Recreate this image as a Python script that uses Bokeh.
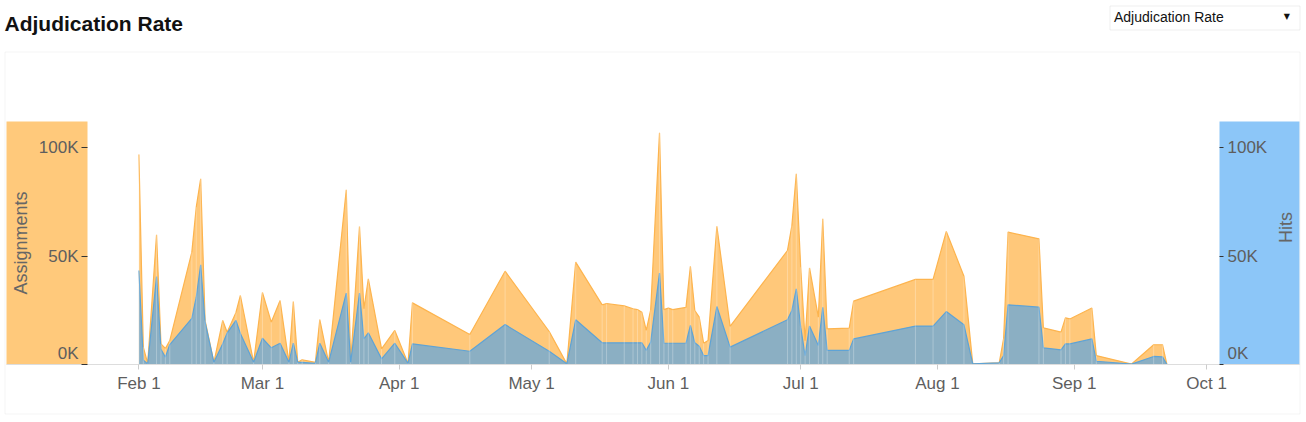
import math
import pandas as pd
from bokeh.plotting import figure
from bokeh.models import (Range1d, LinearAxis, DatetimeAxis, FixedTicker,
                          DatetimeTickFormatter, BoxAnnotation, Label, ColumnDataSource)
from bokeh.embed import file_html
from bokeh.resources import INLINE

# ---------------- data ----------------
dates = [
    "2015-02-01", "2015-02-02", "2015-02-03", "2015-02-05", "2015-02-06", "2015-02-07",
    "2015-02-08", "2015-02-13", "2015-02-14", "2015-02-15", "2015-02-16", "2015-02-18",
    "2015-02-20", "2015-02-21", "2015-02-23", "2015-02-24", "2015-02-27", "2015-03-01",
    "2015-03-03", "2015-03-05", "2015-03-07", "2015-03-08", "2015-03-09", "2015-03-10",
    "2015-03-13", "2015-03-14", "2015-03-16", "2015-03-20", "2015-03-21", "2015-03-23",
    "2015-03-24", "2015-03-25", "2015-03-28", "2015-03-31", "2015-04-03", "2015-04-04",
    "2015-04-17", "2015-04-25", "2015-05-05", "2015-05-09", "2015-05-11", "2015-05-17",
    "2015-05-18", "2015-05-22", "2015-05-24", "2015-05-25", "2015-05-26", "2015-05-27",
    "2015-05-28", "2015-05-30", "2015-05-31", "2015-06-01", "2015-06-02", "2015-06-05",
    "2015-06-06", "2015-06-07", "2015-06-08", "2015-06-09", "2015-06-10", "2015-06-12",
    "2015-06-15", "2015-06-28", "2015-06-29", "2015-06-30", "2015-07-01", "2015-07-02",
    "2015-07-03", "2015-07-05", "2015-07-06", "2015-07-07", "2015-07-12", "2015-07-13",
    "2015-07-27", "2015-07-31", "2015-08-03", "2015-08-07", "2015-08-09", "2015-08-15",
    "2015-08-16", "2015-08-17", "2015-08-24", "2015-08-25", "2015-08-29", "2015-08-30",
    "2015-08-31", "2015-09-05", "2015-09-06", "2015-09-14", "2015-09-19", "2015-09-21",
    "2015-09-22",
]
assignments = [
    96800, 8000, 500, 59800, 9500, 7400,
    11000, 51800, 72500, 85600, 20300, 1000,
    20300, 14900, 24000, 31800, 1000, 33200,
    19500, 29500, 1000, 29000, 1000, 2200,
    1000, 20700, 1000, 80500, 1000, 63600,
    25700, 39500, 7200, 15700, 500, 28400,
    13800, 43000, 15200, 300, 47200, 27500,
    28100, 27000, 25700, 25300, 24100, 15700,
    25200, 106800, 25300, 26000, 25300, 26300,
    45300, 24900, 21800, 9800, 11000, 63700,
    17600, 52500, 64000, 87900, 44800, 11000,
    44500, 21800, 67100, 16400, 16800, 29200,
    39200, 39200, 61300, 40700, 300, 800,
    12000, 61000, 57900, 16900, 14900, 21500,
    21000, 26000, 4100, 200, 9100, 9100,
    0,
]
hits = [
    43300, 2000, 300, 40500, 7000, 3400,
    9200, 21300, 31000, 45900, 19500, 1000,
    9600, 14500, 20300, 14300, 1000, 12100,
    7700, 9800, 1000, 9800, 1000, 1000,
    500, 9800, 1000, 32900, 1000, 32900,
    11800, 14600, 2600, 9800, 500, 9500,
    6100, 18400, 6100, 300, 20600, 10000,
    10000, 10000, 10000, 10000, 10000, 6500,
    10300, 42100, 9800, 9800, 9800, 9800,
    18000, 10000, 8400, 4100, 4100, 26700,
    8000, 20600, 24900, 34900, 17200, 4100,
    17700, 8800, 26400, 6500, 6500, 11800,
    17700, 17700, 24400, 18300, 300, 800,
    4100, 27500, 26400, 7700, 6700, 9500,
    9500, 11800, 1500, 200, 3700, 3500,
    0,
]
x_ticks = ["2015-02-01", "2015-03-01", "2015-04-01", "2015-05-01", "2015-06-01",
           "2015-07-01", "2015-08-01", "2015-09-01", "2015-10-01"]
y_ticks = [0, 50000, 100000]
y_tick_labels = ["0K", "50K", "100K"]
y_max = 112000
title_text = "Adjudication Rate"
dropdown_text = "Adjudication Rate"
left_label = "Assignments"
right_label = "Hits"

# ---------------- layout helpers (pixel -> data for page furniture) ----------------
W, H = 1306, 422
DAY_MS = 86400000.0
FEB1 = pd.Timestamp("2015-02-01").value / 1e6
PX_PER_DAY = 4.412
PX_PER_UNIT = 2.17 / 1000.0
X0_PX, Y0_PX = 138.4, 364.0


def px_x(px):
    return FEB1 + (px - X0_PX) / PX_PER_DAY * DAY_MS


def px_y(py):
    return (Y0_PX - py) / PX_PER_UNIT


x = pd.to_datetime(dates)
src = ColumnDataSource(dict(x=x, a=assignments, h=hits, z=[0] * len(dates)))
tick_ms = [pd.Timestamp(t).value / 1e6 for t in x_ticks]

FONT = "Liberation Sans"
TXT = "#5e5e5e"

p = figure(width=W, height=H, output_backend="svg", toolbar_location=None,
           x_range=Range1d(px_x(0), px_x(W)), y_range=Range1d(px_y(H), px_y(0)),
           x_axis_location=None, y_axis_location=None,
           min_border=0, min_border_left=0, min_border_right=0,
           min_border_top=0, min_border_bottom=0)
p.title.visible = False
# the "0K" labels sit a little above their tick, as in the original chart
zero_shift = 11 / PX_PER_UNIT
p.extra_y_ranges = {
    "hits": Range1d(px_y(H), px_y(0)),
    "zero_lab": Range1d(px_y(H) - zero_shift, px_y(0) - zero_shift),
}
p.xgrid.visible = False
p.ygrid.visible = False
p.outline_line_color = None
p.background_fill_color = "white"
p.border_fill_color = "white"

left_edge, right_edge = px_x(87), px_x(1219)

# coloured axis panels
p.add_layout(BoxAnnotation(left=px_x(6), right=left_edge, bottom=0, top=y_max,
                           fill_color="#FFC97B", fill_alpha=1, line_color=None,
                           level="underlay"))
p.add_layout(BoxAnnotation(left=right_edge, right=px_x(1299), bottom=0, top=y_max,
                           fill_color="#8CC6F8", fill_alpha=1, line_color=None,
                           level="underlay"))
# outer chart box
p.add_layout(BoxAnnotation(left=px_x(4.5), right=px_x(1299.5), top=px_y(51.5),
                           bottom=px_y(413.5), fill_color=None, line_color="#dedede",
                           line_width=1, level="underlay"))
# dropdown box
p.add_layout(BoxAnnotation(left=px_x(1109.5), right=px_x(1299.5), top=px_y(5.5),
                           bottom=px_y(29.5), fill_color=None, line_color="#c6c6c6",
                           line_width=1))

# areas
p.varea(x="x", y1="z", y2="a", source=src, fill_color="#FFC87A", fill_alpha=1)
p.line(x="x", y="a", source=src, line_color="#FDB44E", line_width=1.2)
p.varea(x="x", y1="z", y2="h", source=src, fill_color="#8BAFC3", fill_alpha=1,
        y_range_name="hits")
p.line(x="x", y="h", source=src, line_color="#5EA3D6", line_width=1.2,
       y_range_name="hits")
p.segment(x0="x", y0="z", x1="x", y1="a", source=src, line_color="white",
          line_alpha=0.28, line_width=1)

# x axis
xa = DatetimeAxis(fixed_location=0, bounds=(px_x(6), px_x(1299)))
xa.ticker = FixedTicker(ticks=tick_ms)
xa.formatter = DatetimeTickFormatter(months="%b %-d", days="%b %-d")
xa.major_label_text_font = FONT
xa.major_label_text_font_size = "17px"
xa.major_label_text_color = TXT
xa.axis_line_color = "#dddddd"
xa.major_tick_line_color = "#cccccc"
xa.major_tick_out = 5
xa.major_tick_in = 0
xa.minor_tick_line_color = None
xa.major_label_standoff = 4
p.add_layout(xa, "below")


def style_y(ax, tick_out, standoff, label_standoff):
    ax.ticker = FixedTicker(ticks=y_ticks)
    ax.major_label_overrides = {t: (l if t != 0 else "") for t, l in zip(y_ticks, y_tick_labels)}
    ax.major_label_text_font = FONT
    ax.major_label_text_font_size = "17px"
    ax.major_label_text_color = TXT
    ax.axis_line_color = None
    ax.major_tick_line_color = "#333333"
    ax.major_tick_out = tick_out
    ax.major_tick_in = 0
    ax.minor_tick_line_color = None
    ax.major_label_standoff = standoff
    ax.axis_label_text_font = FONT
    ax.axis_label_text_font_size = "18px"
    ax.axis_label_text_font_style = "normal"
    ax.axis_label_text_color = "#666666"
    ax.axis_label_standoff = label_standoff


def zero_axis(loc, tick_out, standoff):
    ax = LinearAxis(y_range_name="zero_lab", fixed_location=loc)
    ax.ticker = FixedTicker(ticks=[y_ticks[0]])
    ax.major_label_overrides = {y_ticks[0]: y_tick_labels[0]}
    ax.major_label_text_font = FONT
    ax.major_label_text_font_size = "17px"
    ax.major_label_text_color = TXT
    ax.axis_line_color = None
    ax.major_tick_line_color = None
    ax.major_tick_out = tick_out
    ax.major_tick_in = 0
    ax.minor_tick_line_color = None
    ax.major_label_standoff = standoff
    return ax


la = LinearAxis(axis_label=left_label, fixed_location=left_edge, bounds=(0, y_max))
style_y(la, 6, 3, 5)
p.add_layout(la, "left")
p.add_layout(zero_axis(left_edge, 6, 3), "left")

ra = LinearAxis(axis_label=right_label, y_range_name="hits", fixed_location=right_edge,
                bounds=(0, y_max))
style_y(ra, 4, 4, 16)
ra.axis_label_orientation = math.pi / 2
p.add_layout(ra, "right")
p.add_layout(zero_axis(right_edge, 4, 4), "right")

# title and dropdown texts
p.add_layout(Label(x=px_x(4), y=px_y(22.6), text=title_text,
                   text_font=FONT, text_font_size="21px", text_font_style="bold",
                   text_color="#111111", text_baseline="middle"))
p.add_layout(Label(x=px_x(1113.5), y=px_y(16.4), text=dropdown_text, text_font=FONT,
                   text_font_size="14px", text_color="#111111",
                   text_baseline="middle"))
p.add_layout(Label(x=px_x(1286.3), y=px_y(16.2), text="▼",
                   text_font="DejaVu Sans", text_font_size="8px", text_color="#111111",
                   text_align="center", text_baseline="middle"))

open("out.html", "w").write(file_html(p, INLINE))
